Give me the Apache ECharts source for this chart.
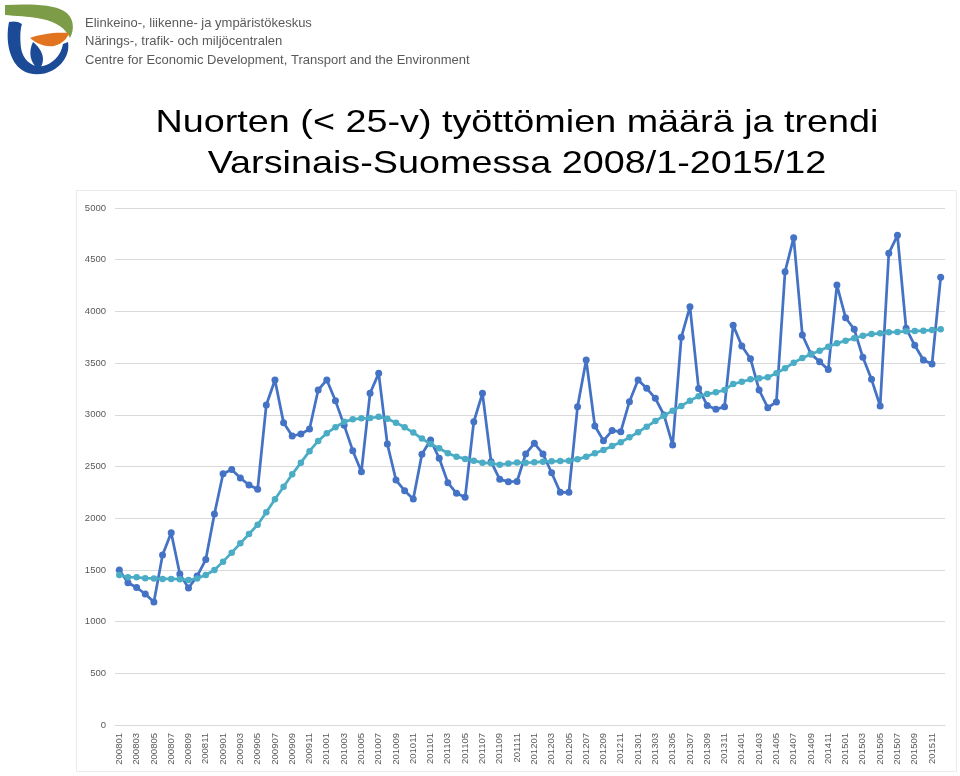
<!DOCTYPE html>
<html>
<head>
<meta charset="utf-8">
<script src="https://cdn.jsdelivr.net/npm/echarts@6/dist/echarts.min.js"></script>
<style>html,body{margin:0;padding:0;background:#fff;}#c{width:960px;height:776px;}</style>
</head>
<body>
<div id="c"></div>
<script>
var months = ['200801','200802','200803','200804','200805','200806','200807','200808','200809','200810','200811','200812',
'200901','200902','200903','200904','200905','200906','200907','200908','200909','200910','200911','200912',
'201001','201002','201003','201004','201005','201006','201007','201008','201009','201010','201011','201012',
'201101','201102','201103','201104','201105','201106','201107','201108','201109','201110','201111','201112',
'201201','201202','201203','201204','201205','201206','201207','201208','201209','201210','201211','201212',
'201301','201302','201303','201304','201305','201306','201307','201308','201309','201310','201311','201312',
'201401','201402','201403','201404','201405','201406','201407','201408','201409','201410','201411','201412',
'201501','201502','201503','201504','201505','201506','201507','201508','201509','201510','201511','201512'];

var unemployedYouth = [1500,1375,1330,1267,1190,1644,1860,1460,1325,1440,1600,2041,
2430,2470,2389,2321,2280,3095,3337,2922,2795,2814,2862,3240,
3337,3135,2900,2653,2450,3208,3401,2718,2369,2266,2186,2618,
2756,2579,2344,2241,2202,2933,3208,2547,2376,2353,2355,2621,
2724,2621,2440,2250,2250,3078,3530,2892,2750,2847,2837,3127,
3337,3256,3159,2998,2708,3749,4046,3255,3090,3053,3079,3866,
3665,3543,3240,3069,3124,4384,4713,3772,3588,3514,3437,4255,
3939,3827,3556,3343,3085,4562,4736,3836,3672,3530,3491,4330];

var trend = [1451,1430,1428,1420,1418,1412,1412,1410,1402,1418,1451,1499,
1580,1667,1757,1847,1937,2057,2183,2305,2425,2537,2648,2747,
2822,2880,2932,2956,2966,2969,2980,2962,2924,2879,2828,2770,
2718,2676,2628,2595,2573,2556,2537,2531,2518,2528,2538,2537,
2540,2547,2550,2553,2556,2569,2595,2628,2660,2698,2734,2782,
2831,2885,2940,2992,3040,3085,3137,3180,3200,3217,3240,3298,
3320,3343,3353,3362,3401,3450,3504,3549,3585,3620,3659,3691,
3717,3740,3765,3781,3788,3798,3801,3807,3810,3814,3820,3827];

var titleLines = ['Nuorten (< 25-v) työttömien määrä ja trendi', 'Varsinais-Suomessa 2008/1-2015/12'];
var orgLines = ['Elinkeino-, liikenne- ja ympäristökeskus', 'Närings-, trafik- och miljöcentralen', 'Centre for Economic Development, Transport and the Environment'];

var FONT = "'Liberation Sans', Arial, Helvetica, sans-serif";

// Logo shapes (decoration)
var logoShapes = [
  {name: 'logoGreen', d: 'M5,5 C28,4 52,4 64,11 C74,17 75,29 70,38 C66,29 57,22 42,19 C28,16 15,16 5,15 Z', fill: '#7d9c48'},
  {name: 'logoOrange', d: 'M30,38 C40,34 56,32 69,33 C67,39 62,44 54,46 C45,47 37,44 30,38 Z', fill: '#e2731f'},
  {name: 'logoBlue1', d: 'M9,22 C5,42 10,62 22,70 C34,78 54,75 64,60 C68,54 69,48 68,42 L63,44 C61,56 52,64 43,66 C32,68 23,60 21,48 C20,38 20,30 22,24 C18,21 13,21 9,22 Z', fill: '#1b4a97'},
  {name: 'logoBlue2', d: 'M33,42 C28,52 30,63 39,70 C45,62 45,52 33,42 Z', fill: '#1b4a97'}
];
var logoGraphics = [];
logoShapes.forEach(function (s) {
  try {
    var Cls = echarts.graphic.extendPath(s.d, {});
    echarts.graphic.registerShape(s.name, Cls);
    logoGraphics.push({type: s.name, style: {fill: s.fill}, silent: true});
  } catch (e) {}
});

var chart = echarts.init(document.getElementById('c'), null, {renderer: 'canvas'});
chart.setOption({
  backgroundColor: '#ffffff',
  animation: false,
  textStyle: {fontFamily: FONT},
  grid: {left: 115, right: 15, top: 208, bottom: 51, containLabel: false},
  xAxis: {
    type: 'category',
    data: months,
    boundaryGap: true,
    axisLine: {lineStyle: {color: '#d9d9d9', width: 1}},
    axisTick: {show: false},
    axisLabel: {interval: 1, rotate: 90, fontSize: 9.5, color: '#595959', margin: 8, fontFamily: FONT},
    splitLine: {show: false}
  },
  yAxis: {
    type: 'value',
    min: 0, max: 5000, interval: 500,
    axisLine: {show: false},
    axisTick: {show: false},
    axisLabel: {fontSize: 9.5, color: '#595959', margin: 9, fontFamily: FONT, formatter: function (v) { return String(v); }},
    splitLine: {lineStyle: {color: '#d9d9d9', width: 1}}
  },
  series: [
    {
      name: 'Työttömät alle 25-v',
      type: 'line',
      data: unemployedYouth,
      symbol: 'circle',
      symbolSize: 7,
      showSymbol: true,
      showAllSymbol: true,
      lineStyle: {color: '#4472c4', width: 2.75},
      itemStyle: {color: '#4472c4'},
      z: 2
    },
    {
      name: 'Trendi',
      type: 'line',
      data: trend,
      symbol: 'circle',
      symbolSize: 6.5,
      showSymbol: true,
      showAllSymbol: true,
      lineStyle: {color: '#4bacc6', width: 2.75},
      itemStyle: {color: '#4bacc6'},
      z: 3
    }
  ],
  graphic: [
    {type: 'rect', shape: {x: 76.5, y: 190.5, width: 880, height: 581}, style: {fill: 'none', stroke: '#ebebeb', lineWidth: 1}, silent: true, z: -10},
    {type: 'text', x: 517, y: 103, scaleX: 1.18, scaleY: 1,
      style: {text: titleLines.join('\n'), font: '32px ' + FONT, fill: '#000000', textAlign: 'center', textVerticalAlign: 'top', lineHeight: 41}},
    {type: 'text', x: 85, y: 14,
      style: {text: orgLines.join('\n'), font: '13px ' + FONT, fill: '#5a5a5a', textAlign: 'left', textVerticalAlign: 'top', lineHeight: 18.5}}
  ].concat(logoGraphics)
});
</script>
</body>
</html>
